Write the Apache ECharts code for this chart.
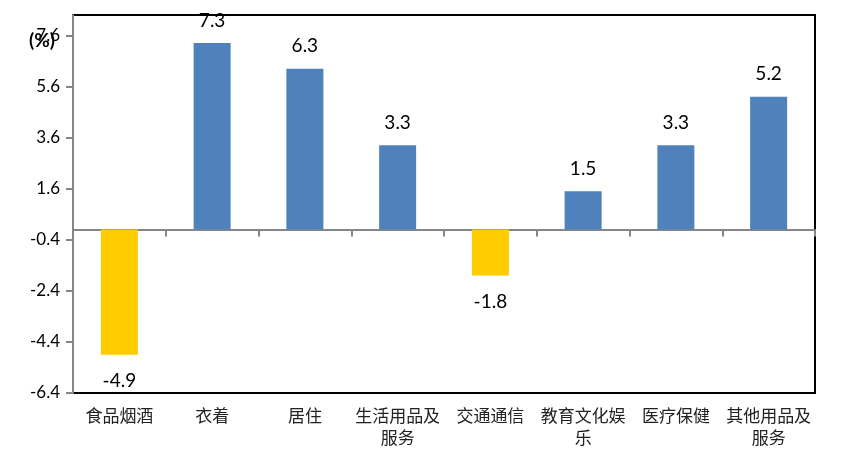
<!DOCTYPE html>
<html>
<head>
<meta charset="utf-8">
<script src="https://cdn.jsdelivr.net/npm/echarts@6/dist/echarts.min.js"></script>
<style>html,body{margin:0;padding:0;background:#fff}#c{width:843px;height:457px}</style>
</head>
<body>
<div id="c"></div>
<script>
const categories = ['食品烟酒', '衣着', '居住', '生活用品及\n服务', '交通通信', '教育文化娱\n乐', '医疗保健', '其他用品及\n服务'];
const values = [-4.9, 7.3, 6.3, 3.3, -1.8, 1.5, 3.3, 5.2];
const yTicks = [-6.4, -4.4, -2.4, -0.4, 1.6, 3.6, 5.6, 7.6];
const yUnit = '(%)';

const numFont = 'Lato, "Open Sans", sans-serif';
const cjkFont = '"Noto Sans CJK SC", sans-serif';

const barData = values.map(v => ({
  value: v,
  itemStyle: { color: v < 0 ? '#FFCC00' : '#4F81BD' },
  label: v < 0 ? { position: 'bottom', distance: 17 } : { position: 'top', distance: 13 }
}));

const chart = echarts.init(document.getElementById('c'), null, { renderer: 'canvas' });
chart.setOption({
  animation: false,
  backgroundColor: '#fff',
  grid: { left: 73, right: 28, top: 15, bottom: 64, show: true, borderColor: '#000', borderWidth: 2, backgroundColor: 'transparent' },
  xAxis: [{
    type: 'category',
    data: categories,
    axisLine: { onZero: true, lineStyle: { color: '#868686', width: 2 } },
    axisTick: { show: true, length: 7, lineStyle: { color: '#868686', width: 2 } },
    axisLabel: { show: false },
    splitLine: { show: false }
  }, {
    type: 'category',
    data: categories,
    position: 'bottom',
    axisLine: { show: false, onZero: false },
    axisTick: { show: false },
    axisLabel: { show: true, margin: 12, fontFamily: cjkFont, fontSize: 17, color: '#222', lineHeight: 22, interval: 0 },
    splitLine: { show: false }
  }],
  yAxis: {
    type: 'value',
    min: -6.4,
    max: 8.4,
    axisLine: { show: true, lineStyle: { color: '#868686', width: 2 } },
    axisTick: { show: true, length: 7, customValues: yTicks, lineStyle: { color: '#868686', width: 2 } },
    axisLabel: { customValues: yTicks, margin: 13, fontFamily: numFont, fontSize: 17, color: '#000', formatter: v => v.toFixed(1) },
    splitLine: { show: false }
  },
  graphic: [{
    type: 'text',
    left: 29, top: 31,
    style: { text: yUnit, font: 'bold 19px ' + numFont, fill: '#000' }
  }],
  series: [{
    type: 'bar',
    xAxisIndex: 0,
    data: barData,
    barWidth: 37,
    label: { show: true, fontFamily: numFont, fontSize: 19, color: '#000', formatter: p => p.value.toFixed(1) }
  }]
});
</script>
</body>
</html>
